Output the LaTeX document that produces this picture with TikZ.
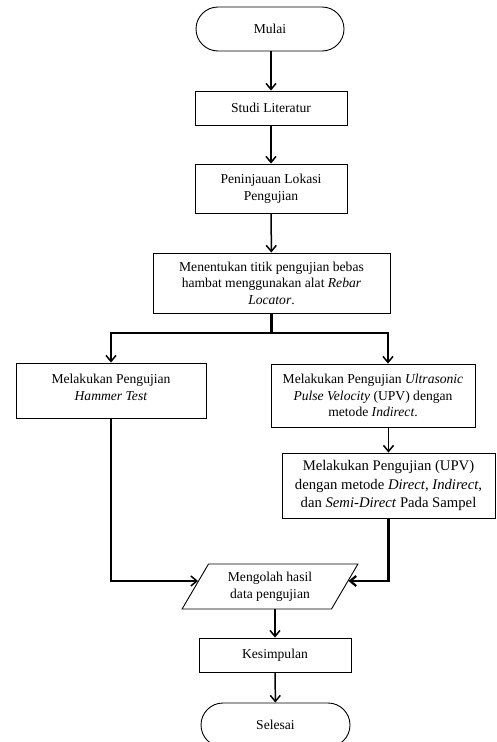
\documentclass[tikz,border=0pt]{standalone}
\usepackage{fontspec}
\setmainfont{Liberation Serif}
\usetikzlibrary{shapes.misc,shapes.geometric,arrows.meta,calc}
\begin{document}
\begin{tikzpicture}[x=1pt,y=-1pt,
  box/.style={draw,line width=0.9pt,align=center,inner sep=2pt,
    font=\fontsize{13.6}{16.5}\selectfont},
  term/.style={box,rounded rectangle},
  conn/.style={line width=1.5pt},
  conn2/.style={line width=2.2pt},
  arr/.style={conn,-{Straight Barb[length=6pt,width=10pt]}},
  arr2/.style={conn2,-{Straight Barb[length=6pt,width=10pt]}}]
\useasboundingbox (0,0) rectangle (496,742);
\node[term,minimum width=152pt,minimum height=44pt] (mulai) at (270,29) {Mulai};
\node[box,minimum width=152pt,minimum height=34pt] (studi) at (271,108) {Studi Literatur};
\node[box,minimum width=152pt,minimum height=49pt] (tinjau) at (271,188.5) {Peninjauan Lokasi\\Pengujian};
\node[box,minimum width=237pt,minimum height=60pt] (tentu) at (271.5,283) {Menentukan titik pengujian bebas\\hambat menggunakan alat \textit{Rebar}\\\textit{Locator}.};
\node[box,minimum width=190pt,minimum height=55pt] (hammer) at (111,390.5) {Melakukan Pengujian\\\textit{Hammer Test}\\[-10pt]};
\node[box,minimum width=204pt,minimum height=63pt] (upv1) at (373,395.5) {Melakukan Pengujian \textit{Ultrasonic}\\\textit{Pulse Velocity} (UPV) dengan\\metode \textit{Indirect}.};
\node[box,minimum width=213pt,minimum height=65pt,font=\fontsize{14.7}{18.5}\selectfont] (upv2) at (388.5,485.5) {Melakukan Pengujian (UPV)\\dengan metode \textit{Direct}, \textit{Indirect},\\dan \textit{Semi-Direct} Pada Sampel};
\node[box,trapezium,trapezium left angle=60,trapezium right angle=120,
  trapezium stretches=true,minimum width=176pt,minimum height=45pt] (olah) at (270,586.5) {Mengolah hasil\\data pengujian};
\node[box,minimum width=152pt,minimum height=34pt] (simpul) at (275,655) {Kesimpulan};
\node[term,minimum width=153pt,minimum height=44pt] (selesai) at (275.5,725) {Selesai};
\coordinate (jn) at (tentu.south |- 0,333);
\coordinate (jl) at (hammer.north |- jn);
\coordinate (jr) at (388,333);
\coordinate (pl) at ($(olah.bottom left corner)!0.62!(olah.top left corner)$);
\coordinate (pr) at ($(olah.bottom right corner)!0.62!(olah.top right corner)$);
\draw[arr] (mulai.south -| studi) -- (studi);
\draw[arr] (studi) -- (tinjau);
\draw[arr] (tinjau) -- (tentu);
\draw[conn2] (tentu.south) -- (jn);
\draw[conn2] ([xshift=-1pt]jl) -- ([xshift=1pt]jr);
\draw[arr] (jl) -- (hammer.north);
\draw[arr] (jr) -- (jr |- upv1.north);
\draw[arr] (upv1.south -| upv2) -- (upv2.north);
\draw[arr2] (upv2.south) |- (pr);
\draw[arr] (hammer.south) |- (pl);
\draw[arr] (simpul.north |- olah.south) -- (simpul.north);
\draw[arr] (simpul) -- (selesai);
\end{tikzpicture}
\end{document}
